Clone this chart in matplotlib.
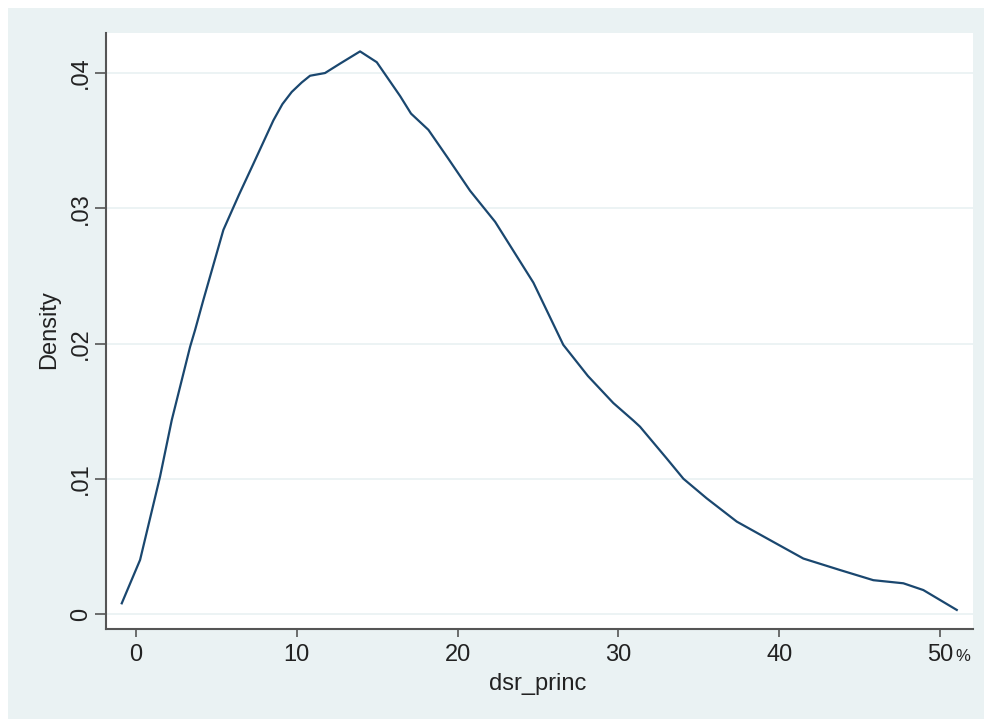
import matplotlib
matplotlib.use("Agg")
import matplotlib.pyplot as plt
from matplotlib.patches import Rectangle

plt.rcParams['font.family'] = ['Liberation Sans', 'DejaVu Sans']

# kernel density of dsr_princ
dsr = [-0.89, 0.25, 1.49, 2.22, 3.36, 3.67, 4.18, 5.43, 6.4, 7.30, 8.54,
       9.1, 9.68, 10.3, 10.82, 11.75, 12.69, 13.93, 14.97, 16.42, 17.1,
       18.18, 19.4, 20.77, 22.33, 24.71, 26.57, 28.1, 29.68, 30.93, 31.34,
       33.0, 34.04, 35.49, 37.36, 39.22, 41.5, 43.78, 45.85, 47.72, 48.96,
       51.04]
density = [0.00079, 0.0040, 0.01015, 0.01434, 0.01976, 0.0210, 0.0232,
           0.0284, 0.0310, 0.0333, 0.0365, 0.0377, 0.0386, 0.0393, 0.0398,
           0.0400, 0.0407, 0.0416, 0.0408, 0.0383, 0.0370, 0.0358, 0.0337,
           0.0313, 0.0290, 0.0245, 0.0199, 0.0176, 0.0156, 0.0143, 0.01385,
           0.0115, 0.0100, 0.00855, 0.00683, 0.0056, 0.0041, 0.00325,
           0.0025, 0.00227, 0.00177, 0.0003]

xticks = [0, 10, 20, 30, 40, 50]
xlabels = ['0', '10', '20', '30', '40', '50']
yticks = [0, 0.01, 0.02, 0.03, 0.04]
ylabels = ['0', '.01', '.02', '.03', '.04']

bg = '#EAF2F3'
navy = '#1A476F'

fig = plt.figure(figsize=(9.84, 7.19), dpi=100, facecolor='white')
fig.add_artist(Rectangle((8 / 984, 0), 1 - 8 / 984, 711 / 719,
                         transform=fig.transFigure, facecolor=bg,
                         edgecolor='none', zorder=-10))

ax = fig.add_axes([106 / 984, 90 / 719, 867 / 984, 596 / 719])
ax.set_facecolor('white')
ax.plot(dsr, density, color=navy, lw=1.6, zorder=3)

ax.set_xlim(-1.87, 52.05)
ax.set_ylim(-0.00111, 0.04296)
ax.set_xticks(xticks)
ax.set_xticklabels(xlabels)
ax.set_yticks(yticks)
ax.set_yticklabels(ylabels, rotation=90, va='center')

ax.grid(axis='y', color=bg, lw=1.3, zorder=1)
for side in ['top', 'right']:
    ax.spines[side].set_visible(False)
for side in ['left', 'bottom']:
    ax.spines[side].set_color('#555555')
    ax.spines[side].set_linewidth(1.5)

ax.tick_params(axis='x', length=6, width=1.2, color='#555555',
               labelsize=17, pad=5, labelcolor='#222222')
ax.tick_params(axis='y', length=8, width=1.2, color='#555555',
               labelsize=17, pad=2, labelcolor='#222222')

# small percent sign after the last tick label
fig.text(955 / 984, 1 - 661 / 719, '%', fontsize=12, color='#222222',
         ha='left', va='baseline')

fig.text(538 / 984, 1 - 684 / 719, 'dsr_princ', fontsize=17,
         color='#222222', ha='center', va='center')
fig.text(49 / 984, 1 - 330 / 719, 'Density', fontsize=17, rotation=90,
         color='#222222', ha='center', va='center')

fig.savefig('out.png', dpi=100, facecolor=fig.get_facecolor())
